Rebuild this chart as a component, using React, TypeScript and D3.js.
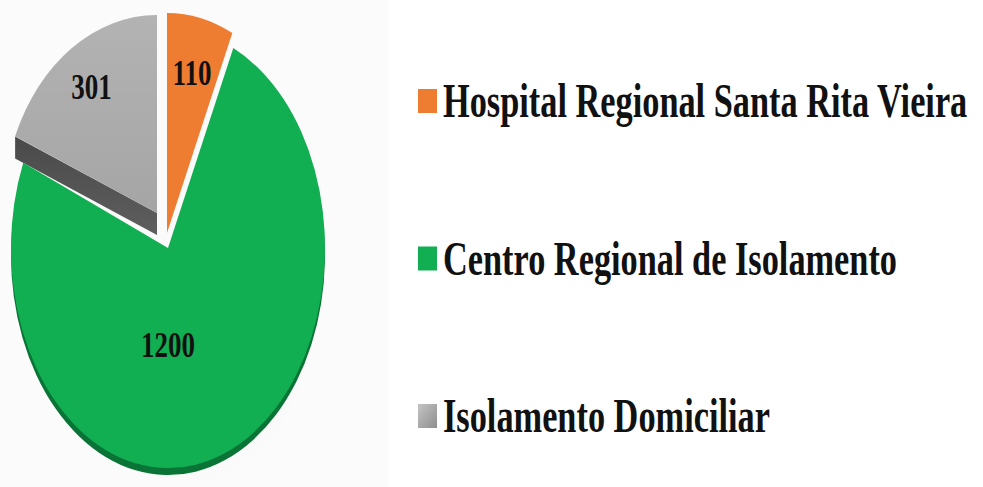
import React from "react";
import * as d3 from "d3";

const categories = [
  "Hospital Regional Santa Rita Vieira",
  "Centro Regional de Isolamento",
  "Isolamento Domiciliar",
];
const values = [110, 1200, 301];
const colors = ["#EE7D31", "#11AE52", "#ABABAB"];

const W = 983;
const H = 487;

// pie geometry (style)
const base = { cx: 168, cy: 248, rx: 157, ry: 220 };
const sliceStyle = [
  { dx: -1, dy: -15, sx: 1, sy: 1.0, labelR: 0.745, labelAngle: null as number | null },
  { dx: 0, dy: 0, sx: 1, sy: 1.0, labelR: 0.44, labelAngle: Math.PI },
  { dx: -11, dy: -35, sx: 0.98, sy: 0.9, labelR: 0.77, labelAngle: null as number | null },
];
const depthGray = 22;
const rimGreen = 7;

const FONT = "'Liberation Serif', 'Times New Roman', serif";

export default function App() {
  const pie = d3.pie<number>().sort(null).value((d) => d);
  const arcs = pie(values);
  const arc = d3.arc<d3.PieArcDatum<number>>().innerRadius(0).outerRadius(1);

  const legendY = d3.scalePoint<string>().domain(categories).range([117, 432]);

  const geo = arcs.map((a, i) => {
    const s = sliceStyle[i];
    const cx = base.cx + s.dx;
    const cy = base.cy + s.dy;
    const rx = base.rx * s.sx;
    const ry = base.ry * s.sy;
    return { a, cx, cy, rx, ry, s };
  });

  const pt = (g: any, ang: number, f: number) => [
    g.cx + f * g.rx * Math.sin(ang),
    g.cy - f * g.ry * Math.cos(ang),
  ];

  const gGray = geo[2];
  const grayCorner = pt(gGray, gGray.a.startAngle, 1);
  const graySide = [
    [gGray.cx, gGray.cy],
    grayCorner,
    [grayCorner[0], grayCorner[1] + depthGray],
    [gGray.cx, gGray.cy + depthGray],
  ];

  const gGreen = geo[1];

  return (
    <svg
      width={W}
      height={H}
      style={{ position: "absolute", left: 0, top: 0, background: "#fff" }}
    >
      <defs>
        <filter id="blur3" x="-20%" y="-20%" width="140%" height="140%">
          <feGaussianBlur stdDeviation="2.5" />
        </filter>
        <linearGradient id="grayFace" x1="0" y1="0" x2="0" y2="1">
          <stop offset="0" stopColor="#B3B3B3" />
          <stop offset="1" stopColor="#A5A5A5" />
        </linearGradient>
        <linearGradient id="graySideG" x1="0" y1="0" x2="0" y2="1">
          <stop offset="0" stopColor="#4a4a4a" />
          <stop offset="1" stopColor="#5e5e5e" />
        </linearGradient>
        <linearGradient id="legGray" x1="0" y1="0" x2="1" y2="1">
          <stop offset="0" stopColor="#c4c4c4" />
          <stop offset="1" stopColor="#8e8e8e" />
        </linearGradient>
      </defs>

      {/* green shadow + rim */}
      <path
        d={arc(gGreen.a) || ""}
        transform={`translate(${gGreen.cx + 1},${gGreen.cy + rimGreen + 2}) scale(${gGreen.rx},${gGreen.ry})`}
        fill="#000"
        opacity={0.35}
        filter="url(#blur3)"
      />
      <path
        d={arc(gGreen.a) || ""}
        transform={`translate(${gGreen.cx},${gGreen.cy + rimGreen}) scale(${gGreen.rx},${gGreen.ry})`}
        fill="#0A7436"
      />

      {/* gray side wall */}
      <polygon
        points={graySide.map((p) => p.join(",")).join(" ")}
        fill="url(#graySideG)"
      />

      {/* faces */}
      {geo.map((g, i) => (
        <path
          key={categories[i]}
          d={arc(g.a) || ""}
          transform={`translate(${g.cx},${g.cy}) scale(${g.rx},${g.ry})`}
          fill={i === 2 ? "url(#grayFace)" : colors[i]}
        />
      ))}

      {/* value labels */}
      {geo.map((g, i) => {
        const ang =
          g.s.labelAngle !== null ? g.s.labelAngle : (g.a.startAngle + g.a.endAngle) / 2;
        const [x, y] = pt(g, ang, g.s.labelR);
        return (
          <text
            key={"l" + i}
            transform={`translate(${x},${y}) scale(0.75,1)`}
            textAnchor="middle"
            dy="0.35em"
            fontFamily={FONT}
            fontWeight="bold"
            fontSize={36}
            fill="#111"
          >
            {values[i]}
          </text>
        );
      })}

      {/* legend */}
      {categories.map((c, i) => {
        const y = legendY(c) as number;
        return (
          <g key={"lg" + c}>
            <rect
              x={418}
              y={y - 28}
              width={19}
              height={24}
              fill={i === 2 ? "url(#legGray)" : colors[i]}
            />
            <text
              transform={`translate(443,${y}) scale(0.715,1)`}
              fontFamily={FONT}
              fontWeight="bold"
              fontSize={48}
              fill="#111"
            >
              {c}
            </text>
          </g>
        );
      })}
    </svg>
  );
}
